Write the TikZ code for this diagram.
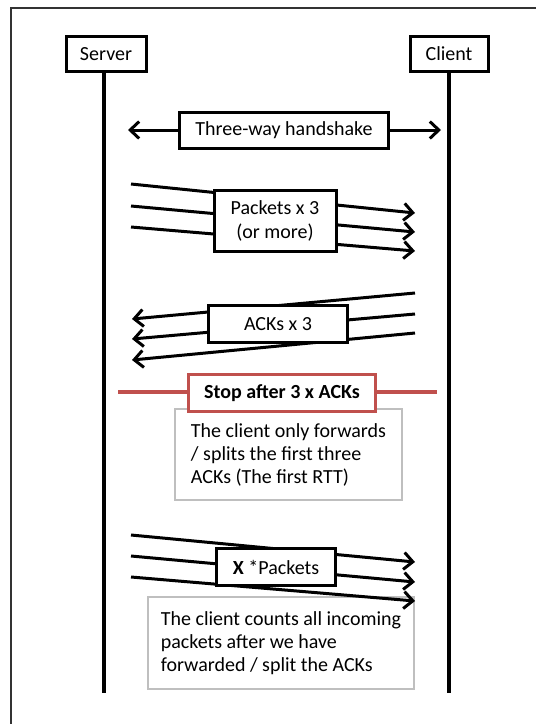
\documentclass[tikz,border=0pt]{standalone}
\usepackage{fontspec}
\setmainfont{Carlito}
\usetikzlibrary{arrows.meta}
\definecolor{stopred}{HTML}{C0504D}
\definecolor{notegray}{HTML}{BFBFBF}
\tikzstyle{box} = [draw=black, line width=3pt, fill=white, inner sep=0pt, align=center, font=\fontsize{20}{24}\selectfont]
\tikzstyle{stopbox} = [box, draw=stopred, font=\fontsize{20}{24}\selectfont\bfseries]
\tikzstyle{note} = [draw=notegray, line width=1.2pt, fill=white, inner sep=0pt, align=left, font=\fontsize{20}{23}\selectfont]
\tikzstyle{msg} = [line width=3pt, -{Straight Barb[length=9pt,width=17pt]}]
\tikzstyle{life} = [line width=4pt]
\tikzstyle{redline} = [line width=4pt, stopred]

\begin{document}
\begin{tikzpicture}[x=1pt, y=1pt, yscale=-1]
\useasboundingbox (0,0) rectangle (536,724);

% frame
\draw[line width=1.5pt, black!80] (11,724) -- (11,8) -- (536,8);

% heads and lifelines
\node at (106,54) (server) [box, minimum width=80, minimum height=35] {Server};
\node at (449,54) (client) [box, minimum width=78, minimum height=35] {Client};
\coordinate (sbot) at (104,693);
\coordinate (cbot) at (449,693);
\draw[life] (server.south -| sbot) -- (sbot);
\draw[life] (client.south -| cbot) -- (cbot);

% handshake
\node at (284,130) (hand) [box, minimum width=209, minimum height=36] {Three-way handshake};
\coordinate (hsl) at (128,130);
\coordinate (hsr) at (441,130);
\draw[msg] (hand.west) -- (hsl);
\draw[msg] (hand.east) -- (hsr);

% packets
\foreach \i/\a/\b in {1/184/213, 2/206/232, 3/227/251} {
  \coordinate (ps\i) at (131,\a);
  \coordinate (pe\i) at (415,\b);
  \draw[msg] (ps\i) -- (pe\i);
}
\node at (275,221) (packets) [box, minimum width=122, minimum height=61] {Packets x 3\\(or more)};

% acks
\foreach \i/\a/\b in {1/293/319, 2/314/339, 3/333/360} {
  \coordinate (as\i) at (415,\a);
  \coordinate (ae\i) at (132,\b);
  \draw[msg] (as\i) -- (ae\i);
}
\node at (278,324) (acks) [box, minimum width=139, minimum height=37] {ACKs x 3};

% stop
\coordinate (rl) at (118,392);
\coordinate (rr) at (437,392);
\draw[redline] (rl) -- (rr);
\node at (288.5,454.5) (note1) [note, minimum width=227, minimum height=91] {The client only forwards\\/ splits the first three\\ACKs (The first RTT)};
\node at (282,393) (stop) [stopbox, minimum width=187, minimum height=37] {Stop after 3 x ACKs};

% more packets
\node at (281,643) (note2) [note, minimum width=266, minimum height=92] {The client counts all incoming\\packets after we have\\forwarded / split the ACKs};
\foreach \i/\a/\b in {1/535/562, 2/556/582, 3/577/601} {
  \coordinate (xs\i) at (131,\a);
  \coordinate (xe\i) at (415,\b);
  \draw[msg] (xs\i) -- (xe\i);
}
\node at (276,567) (xpkt) [box, minimum width=119, minimum height=37] {\textbf{X} *Packets};

\end{tikzpicture}
\end{document}
